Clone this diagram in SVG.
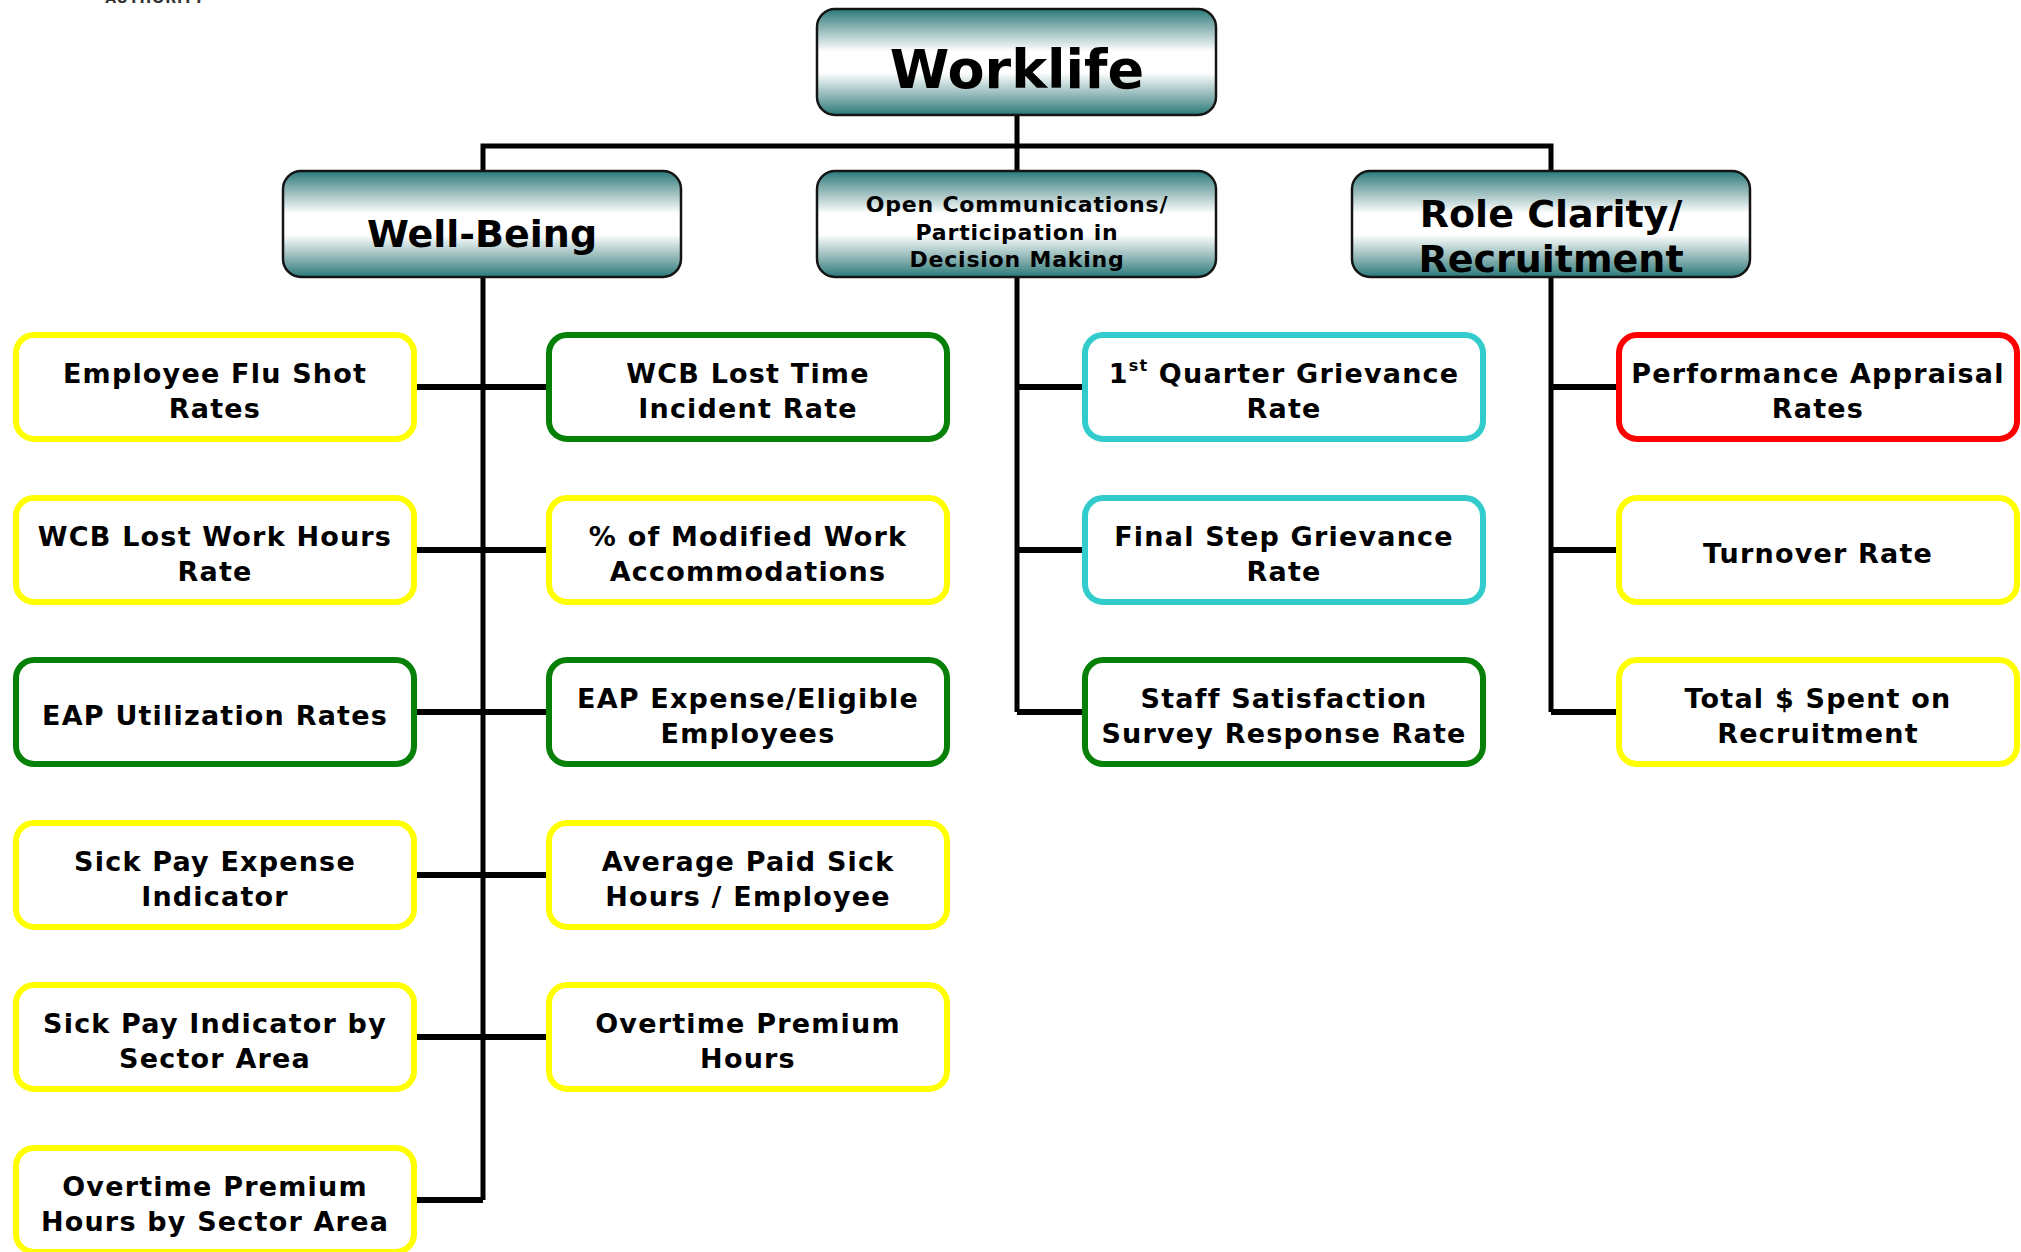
<svg xmlns="http://www.w3.org/2000/svg" width="2021" height="1252" viewBox="0 0 2021 1252">
<defs>
<linearGradient id="teal" x1="0" y1="0" x2="0" y2="1">
<stop offset="0" stop-color="#2a7a7a"/>
<stop offset="0.15" stop-color="#7fabab"/>
<stop offset="0.4" stop-color="#ffffff"/>
<stop offset="0.6" stop-color="#ffffff"/>
<stop offset="0.85" stop-color="#7fabab"/>
<stop offset="1" stop-color="#2a7a7a"/>
</linearGradient>
<style>
.hdr{fill:url(#teal);stroke:#151515;stroke-width:2.5}
.leaf{fill:#ffffff;stroke-width:6}
.y{stroke:#ffff00}
.g{stroke:#068006}
.c{stroke:#33cccc}
.r{stroke:#ff0000}
text{font-family:"DejaVu Sans","Liberation Sans",sans-serif;font-weight:bold;fill:#000;text-anchor:middle}
.lt{font-size:27px;letter-spacing:1.2px}
.trunk{stroke:#000;stroke-width:5;fill:none}
.stub{stroke:#000;stroke-width:6;fill:none}
</style>
</defs>
<text x="155" y="3" style="font-size:14px;fill:#333;letter-spacing:1px">AUTHORITY</text>

<g id="connectors">
<path class="trunk" d="M1017,115 V171 M483,171 V146 H1551 V171"/>
<path class="trunk" d="M483,277 V1200"/>
<path class="trunk" d="M1017,277 V712"/>
<path class="trunk" d="M1551,277 V712"/>
<path class="stub" d="M413,387 H549 M413,550 H549 M413,712 H549 M413,875 H549 M413,1037 H549 M483,1200 H413"/>
<path class="stub" d="M1017,387 H1085 M1017,550 H1085 M1017,712 H1085"/>
<path class="stub" d="M1551,387 H1619 M1551,550 H1619 M1551,712 H1619"/>
</g>

<g id="worklife">
<rect class="hdr" x="817" y="9" width="399" height="106" rx="18"/>
<text x="1017" y="88" style="font-size:54px">Worklife</text>
</g>
<g id="well-being">
<rect class="hdr" x="283" y="171" width="398" height="106" rx="18"/>
<text x="482" y="247" style="font-size:38px">Well-Being</text>
</g>
<g id="open-communications">
<rect class="hdr" x="817" y="171" width="399" height="106" rx="18"/>
<text style="font-size:22px;letter-spacing:0.8px"><tspan x="1017" y="212">Open Communications/</tspan><tspan x="1017" y="240">Participation in</tspan><tspan x="1017" y="267">Decision Making</tspan></text>
</g>
<g id="role-clarity">
<rect class="hdr" x="1352" y="171" width="398" height="106" rx="18"/>
<text style="font-size:38px"><tspan x="1551" y="227">Role Clarity/</tspan><tspan x="1551" y="272">Recruitment</tspan></text>
</g>

<g id="flu-shot">
<rect class="leaf y" x="16" y="335" width="398" height="104" rx="18"/>
<text class="lt"><tspan x="215" y="383">Employee Flu Shot</tspan><tspan x="215" y="418">Rates</tspan></text>
</g>
<g id="wcb-lost-work-hours">
<rect class="leaf y" x="16" y="498" width="398" height="104" rx="18"/>
<text class="lt"><tspan x="215" y="546">WCB Lost Work Hours</tspan><tspan x="215" y="581">Rate</tspan></text>
</g>
<g id="eap-utilization">
<rect class="leaf g" x="16" y="660" width="398" height="104" rx="18"/>
<text class="lt" x="215" y="725">EAP Utilization Rates</text>
</g>
<g id="sick-pay-expense">
<rect class="leaf y" x="16" y="823" width="398" height="104" rx="18"/>
<text class="lt"><tspan x="215" y="871">Sick Pay Expense</tspan><tspan x="215" y="906">Indicator</tspan></text>
</g>
<g id="sick-pay-sector">
<rect class="leaf y" x="16" y="985" width="398" height="104" rx="18"/>
<text class="lt"><tspan x="215" y="1033">Sick Pay Indicator by</tspan><tspan x="215" y="1068">Sector Area</tspan></text>
</g>
<g id="overtime-sector">
<rect class="leaf y" x="16" y="1148" width="398" height="104" rx="18"/>
<text class="lt"><tspan x="215" y="1196">Overtime Premium</tspan><tspan x="215" y="1231">Hours by Sector Area</tspan></text>
</g>

<g id="wcb-lost-time">
<rect class="leaf g" x="549" y="335" width="398" height="104" rx="18"/>
<text class="lt"><tspan x="748" y="383">WCB Lost Time</tspan><tspan x="748" y="418">Incident Rate</tspan></text>
</g>
<g id="modified-work">
<rect class="leaf y" x="549" y="498" width="398" height="104" rx="18"/>
<text class="lt"><tspan x="748" y="546">% of Modified Work</tspan><tspan x="748" y="581">Accommodations</tspan></text>
</g>
<g id="eap-expense">
<rect class="leaf g" x="549" y="660" width="398" height="104" rx="18"/>
<text class="lt"><tspan x="748" y="708">EAP Expense/Eligible</tspan><tspan x="748" y="743">Employees</tspan></text>
</g>
<g id="average-sick">
<rect class="leaf y" x="549" y="823" width="398" height="104" rx="18"/>
<text class="lt"><tspan x="748" y="871">Average Paid Sick</tspan><tspan x="748" y="906">Hours / Employee</tspan></text>
</g>
<g id="overtime-hours">
<rect class="leaf y" x="549" y="985" width="398" height="104" rx="18"/>
<text class="lt"><tspan x="748" y="1033">Overtime Premium</tspan><tspan x="748" y="1068">Hours</tspan></text>
</g>

<g id="first-quarter-grievance">
<rect class="leaf c" x="1085" y="335" width="398" height="104" rx="18"/>
<text class="lt"><tspan x="1284" y="383">1<tspan style="font-size:16px" dy="-12">st</tspan><tspan dy="12"> Quarter Grievance</tspan></tspan><tspan x="1284" y="418">Rate</tspan></text>
</g>
<g id="final-step-grievance">
<rect class="leaf c" x="1085" y="498" width="398" height="104" rx="18"/>
<text class="lt"><tspan x="1284" y="546">Final Step Grievance</tspan><tspan x="1284" y="581">Rate</tspan></text>
</g>
<g id="staff-satisfaction">
<rect class="leaf g" x="1085" y="660" width="398" height="104" rx="18"/>
<text class="lt"><tspan x="1284" y="708">Staff Satisfaction</tspan><tspan x="1284" y="743">Survey Response Rate</tspan></text>
</g>

<g id="performance-appraisal">
<rect class="leaf r" x="1619" y="335" width="398" height="104" rx="18"/>
<text class="lt"><tspan x="1818" y="383">Performance Appraisal</tspan><tspan x="1818" y="418">Rates</tspan></text>
</g>
<g id="turnover">
<rect class="leaf y" x="1619" y="498" width="398" height="104" rx="18"/>
<text class="lt" x="1818" y="563">Turnover Rate</text>
</g>
<g id="recruitment-spend">
<rect class="leaf y" x="1619" y="660" width="398" height="104" rx="18"/>
<text class="lt"><tspan x="1818" y="708">Total $ Spent on</tspan><tspan x="1818" y="743">Recruitment</tspan></text>
</g>
</svg>
